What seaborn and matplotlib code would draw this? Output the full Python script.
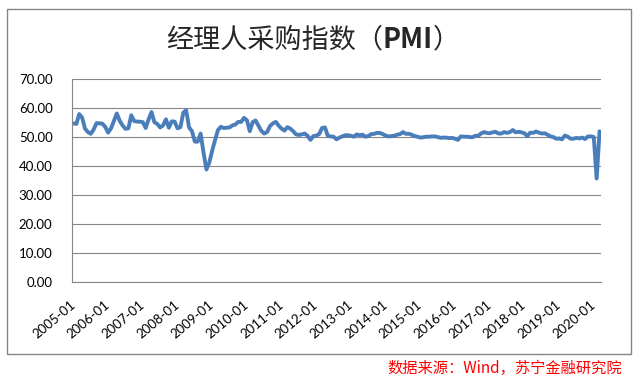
import matplotlib
matplotlib.use("Agg")
import matplotlib.pyplot as plt
import seaborn as sns
import pandas as pd
import numpy as np
from matplotlib.patches import Rectangle

# -------------------- Data (monthly PMI) --------------------
pmi_2005 = [54.7, 54.5, 57.9, 56.7, 52.9, 51.7, 51.1, 52.6, 54.8, 54.7, 54.6, 53.5]
pmi_2006 = [51.5, 53.0, 55.5, 58.1, 55.6, 54.0, 52.8, 53.0, 57.5, 55.5, 55.3, 55.3]
pmi_2007 = [55.1, 53.1, 56.1, 58.6, 55.1, 54.5, 53.3, 54.0, 56.1, 53.2, 55.4, 55.3]
pmi_2008 = [53.0, 53.4, 58.4, 59.2, 53.3, 52.0, 48.4, 48.4, 51.2, 44.6, 38.8, 41.2]
pmi_2009 = [45.3, 49.0, 52.4, 53.5, 53.1, 53.2, 53.3, 54.0, 54.3, 55.2, 55.2, 56.6]
pmi_2010 = [55.8, 52.0, 55.1, 55.7, 53.9, 52.1, 51.2, 51.7, 53.8, 54.7, 55.2, 53.9]
pmi_2011 = [52.9, 52.2, 53.4, 52.9, 52.0, 50.9, 50.7, 50.9, 51.2, 50.4, 49.0, 50.3]
pmi_2012 = [50.5, 51.0, 53.1, 53.3, 50.4, 50.2, 50.1, 49.2, 49.8, 50.2, 50.6, 50.6]
pmi_2013 = [50.4, 50.1, 50.9, 50.6, 50.8, 50.1, 50.3, 51.0, 51.1, 51.4, 51.4, 51.0]
pmi_2014 = [50.5, 50.2, 50.3, 50.4, 50.8, 51.0, 51.7, 51.1, 51.1, 50.8, 50.3, 50.1]
pmi_2015 = [49.8, 49.9, 50.1, 50.1, 50.2, 50.2, 50.0, 49.7, 49.8, 49.8, 49.6, 49.7]
pmi_2016 = [49.4, 49.0, 50.2, 50.1, 50.1, 50.0, 49.9, 50.4, 50.4, 51.2, 51.7, 51.4]
pmi_2017 = [51.3, 51.6, 51.8, 51.2, 51.2, 51.7, 51.4, 51.7, 52.4, 51.6, 51.8, 51.6]
pmi_2018 = [51.3, 50.3, 51.5, 51.4, 51.9, 51.5, 51.2, 51.3, 50.8, 50.2, 50.0, 49.4]
pmi_2019 = [49.5, 49.2, 50.5, 50.1, 49.4, 49.4, 49.7, 49.5, 49.8, 49.3, 50.2, 50.2]
pmi_2020 = [50.0, 35.7, 52.0]

values = (pmi_2005 + pmi_2006 + pmi_2007 + pmi_2008 + pmi_2009 + pmi_2010 +
          pmi_2011 + pmi_2012 + pmi_2013 + pmi_2014 + pmi_2015 + pmi_2016 +
          pmi_2017 + pmi_2018 + pmi_2019 + pmi_2020)
months = pd.period_range("2005-01", periods=len(values), freq="M").strftime("%Y-%m").tolist()
y_ticks = [0, 10, 20, 30, 40, 50, 60, 70]

df = pd.DataFrame({"pos": range(len(values)), "month": months, "pmi": values})

title_parts = [("经理人采购指数（", "normal"), ("PMI", "bold"), ("）", "normal")]
source_text = "数据来源：Wind，苏宁金融研究院"

# -------------------- Style --------------------
sns.set_style("white")
plt.rcParams["font.family"] = ["Lato", "Noto Sans CJK SC", "DejaVu Sans"]
GRAY = "#868686"
CJK = ["Noto Sans CJK SC", "DejaVu Sans"]

W, H = 637, 380
fig = plt.figure(figsize=(W / 100, H / 100), dpi=100)
ax = fig.add_axes([72 / W, 1 - 282 / H, (601 - 72) / W, (282 - 79) / H])

sns.lineplot(data=df, x="pos", y="pmi", ax=ax, color="#4a7ebb", linewidth=2.8)

ax.set_xlim(-0.5, len(values) - 0.5)
ax.set_ylim(0, 70)
ax.set_yticks(y_ticks)
ax.set_yticklabels([f"{v:.2f}" for v in y_ticks])
ax.yaxis.grid(True, color=GRAY, linewidth=0.8)
ax.xaxis.grid(False)

ax.set_xticks(df["pos"][::12])
ax.set_xticklabels(df["month"][::12], rotation=40, ha="right", va="center",
                   rotation_mode="anchor")
ax.tick_params(axis="both", length=0, labelsize=9.5, colors="black")
ax.tick_params(axis="x", pad=15)
ax.tick_params(axis="y", pad=14)
ax.set_xlabel("")
ax.set_ylabel("")

for side in ["top", "right"]:
    ax.spines[side].set_visible(False)
for side in ["left", "bottom"]:
    ax.spines[side].set_color(GRAY)
    ax.spines[side].set_linewidth(0.8)

# outer chart frame
fig.add_artist(Rectangle((7 / W, 1 - 354 / H), (631 - 7) / W, (354 - 9) / H,
                         transform=fig.transFigure, fill=False,
                         edgecolor=GRAY, linewidth=1.0))

# -------------------- Title (mixed weight) --------------------
renderer = fig.canvas.get_renderer()
texts = []
for txt, weight in title_parts:
    t = fig.text(0, 1 - 40 / H, txt, fontsize=19.5, fontweight=weight,
                 family=CJK, ha="left", va="center")
    texts.append(t)
widths = [t.get_window_extent(renderer).width for t in texts]
x = 313 - sum(widths) / 2
for t, w in zip(texts, widths):
    t.set_x(x / W)
    x += w

# -------------------- Source note --------------------
fig.text(622 / W, 1 - 368 / H, source_text, fontsize=11, color="red",
         family=CJK, ha="right", va="center")

plt.savefig("out.png", dpi=100)
plt.close()
